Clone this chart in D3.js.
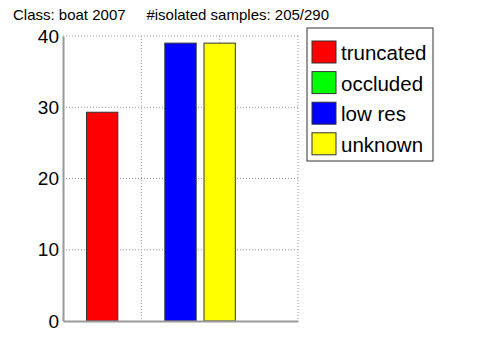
<!DOCTYPE html>
<html>
<head>
<meta charset="utf-8">
<script src="https://cdn.jsdelivr.net/npm/d3@7"></script>
<style>
  body { margin: 0; background: #fff; }
  text { font-family: "Liberation Sans", Arial, sans-serif; }
</style>
</head>
<body>
<script>
// isolated samples per viewpoint/occlusion category
const categories = ['truncated', 'occluded', 'low res', 'unknown'];
const positions = [1, 2, 3, 4];
const values = [29.3, 0, 39.0, 39.0];
const colours = ['#ff0000', '#00ff00', '#0000ff', '#ffff00'];
const yTicks = [0, 10, 20, 30, 40];
const xGrid = [2, 4, 6];

const svg = d3.select('body')
  .append('svg')
  .attr('width', 480)
  .attr('height', 360);

const margin = { top: 36, left: 63 };
const width = 235;
const height = 285;

svg.append('text')
  .attr('x', 13)
  .attr('y', 20)
  .attr('font-size', 15)
  .style('white-space', 'pre')
  .text('Class: boat 2007     #isolated samples: 205/290');

const g = svg.append('g')
  .attr('transform', `translate(${margin.left} ${margin.top})`);

const x = d3.scaleLinear()
  .domain([0, 6])
  .range([0, width]);

const y = d3.scaleLinear()
  .domain([0, 40])
  .range([height, 0]);

// dotted grid
g.selectAll('.hgrid')
  .data(yTicks.slice(1))
  .enter()
    .append('line')
    .attr('x1', 0)
    .attr('x2', width)
    .attr('y1', d => y(d))
    .attr('y2', d => y(d))
    .attr('stroke', '#999')
    .attr('stroke-dasharray', '1,2');

g.selectAll('.vgrid')
  .data(xGrid)
  .enter()
    .append('line')
    .attr('x1', d => x(d))
    .attr('x2', d => x(d))
    .attr('y1', 0)
    .attr('y2', height)
    .attr('stroke', '#999')
    .attr('stroke-dasharray', '1,2');

const barWidth = x(0.8) - x(0);

g.selectAll('.bar')
  .data(values)
  .enter()
    .append('rect')
    .attr('class', 'bar')
    .attr('x', (d, i) => x(positions[i]) - barWidth / 2)
    .attr('y', d => y(d))
    .attr('width', barWidth)
    .attr('height', d => height - y(d))
    .attr('fill', (d, i) => colours[i])
    .attr('stroke', (d, i) => d === 0 ? 'none' : '#333')
    .attr('stroke-width', 1);

// axes
const yAxis = g.append('g')
  .call(d3.axisLeft(y).tickValues(yTicks).tickSize(0).tickPadding(4));
yAxis.select('.domain').attr('stroke', '#999').attr('stroke-width', 2);
yAxis.selectAll('text')
  .attr('font-size', 19)
  .attr('fill', '#000')
  .style('font-family', '"Liberation Sans", Arial, sans-serif');

const xAxis = g.append('g')
  .attr('transform', `translate(0 ${height})`)
  .call(d3.axisBottom(x).tickValues([]).tickSizeOuter(0));
xAxis.select('.domain').attr('stroke', '#999').attr('stroke-width', 2);

// legend
const legend = svg.append('g')
  .attr('transform', 'translate(307 28)');

legend.append('rect')
  .attr('width', 126)
  .attr('height', 133)
  .attr('fill', '#fff')
  .attr('stroke', '#333');

const items = legend.selectAll('.item')
  .data(categories)
  .enter()
    .append('g')
    .attr('transform', (d, i) => `translate(5 ${13 + i * 30.6})`);

items.append('rect')
  .attr('width', 24)
  .attr('height', 22)
  .attr('fill', (d, i) => colours[i])
  .attr('stroke', '#333');

items.append('text')
  .attr('x', 29)
  .attr('y', 19)
  .attr('font-size', 20.5)
  .text(d => d);
</script>
</body>
</html>
